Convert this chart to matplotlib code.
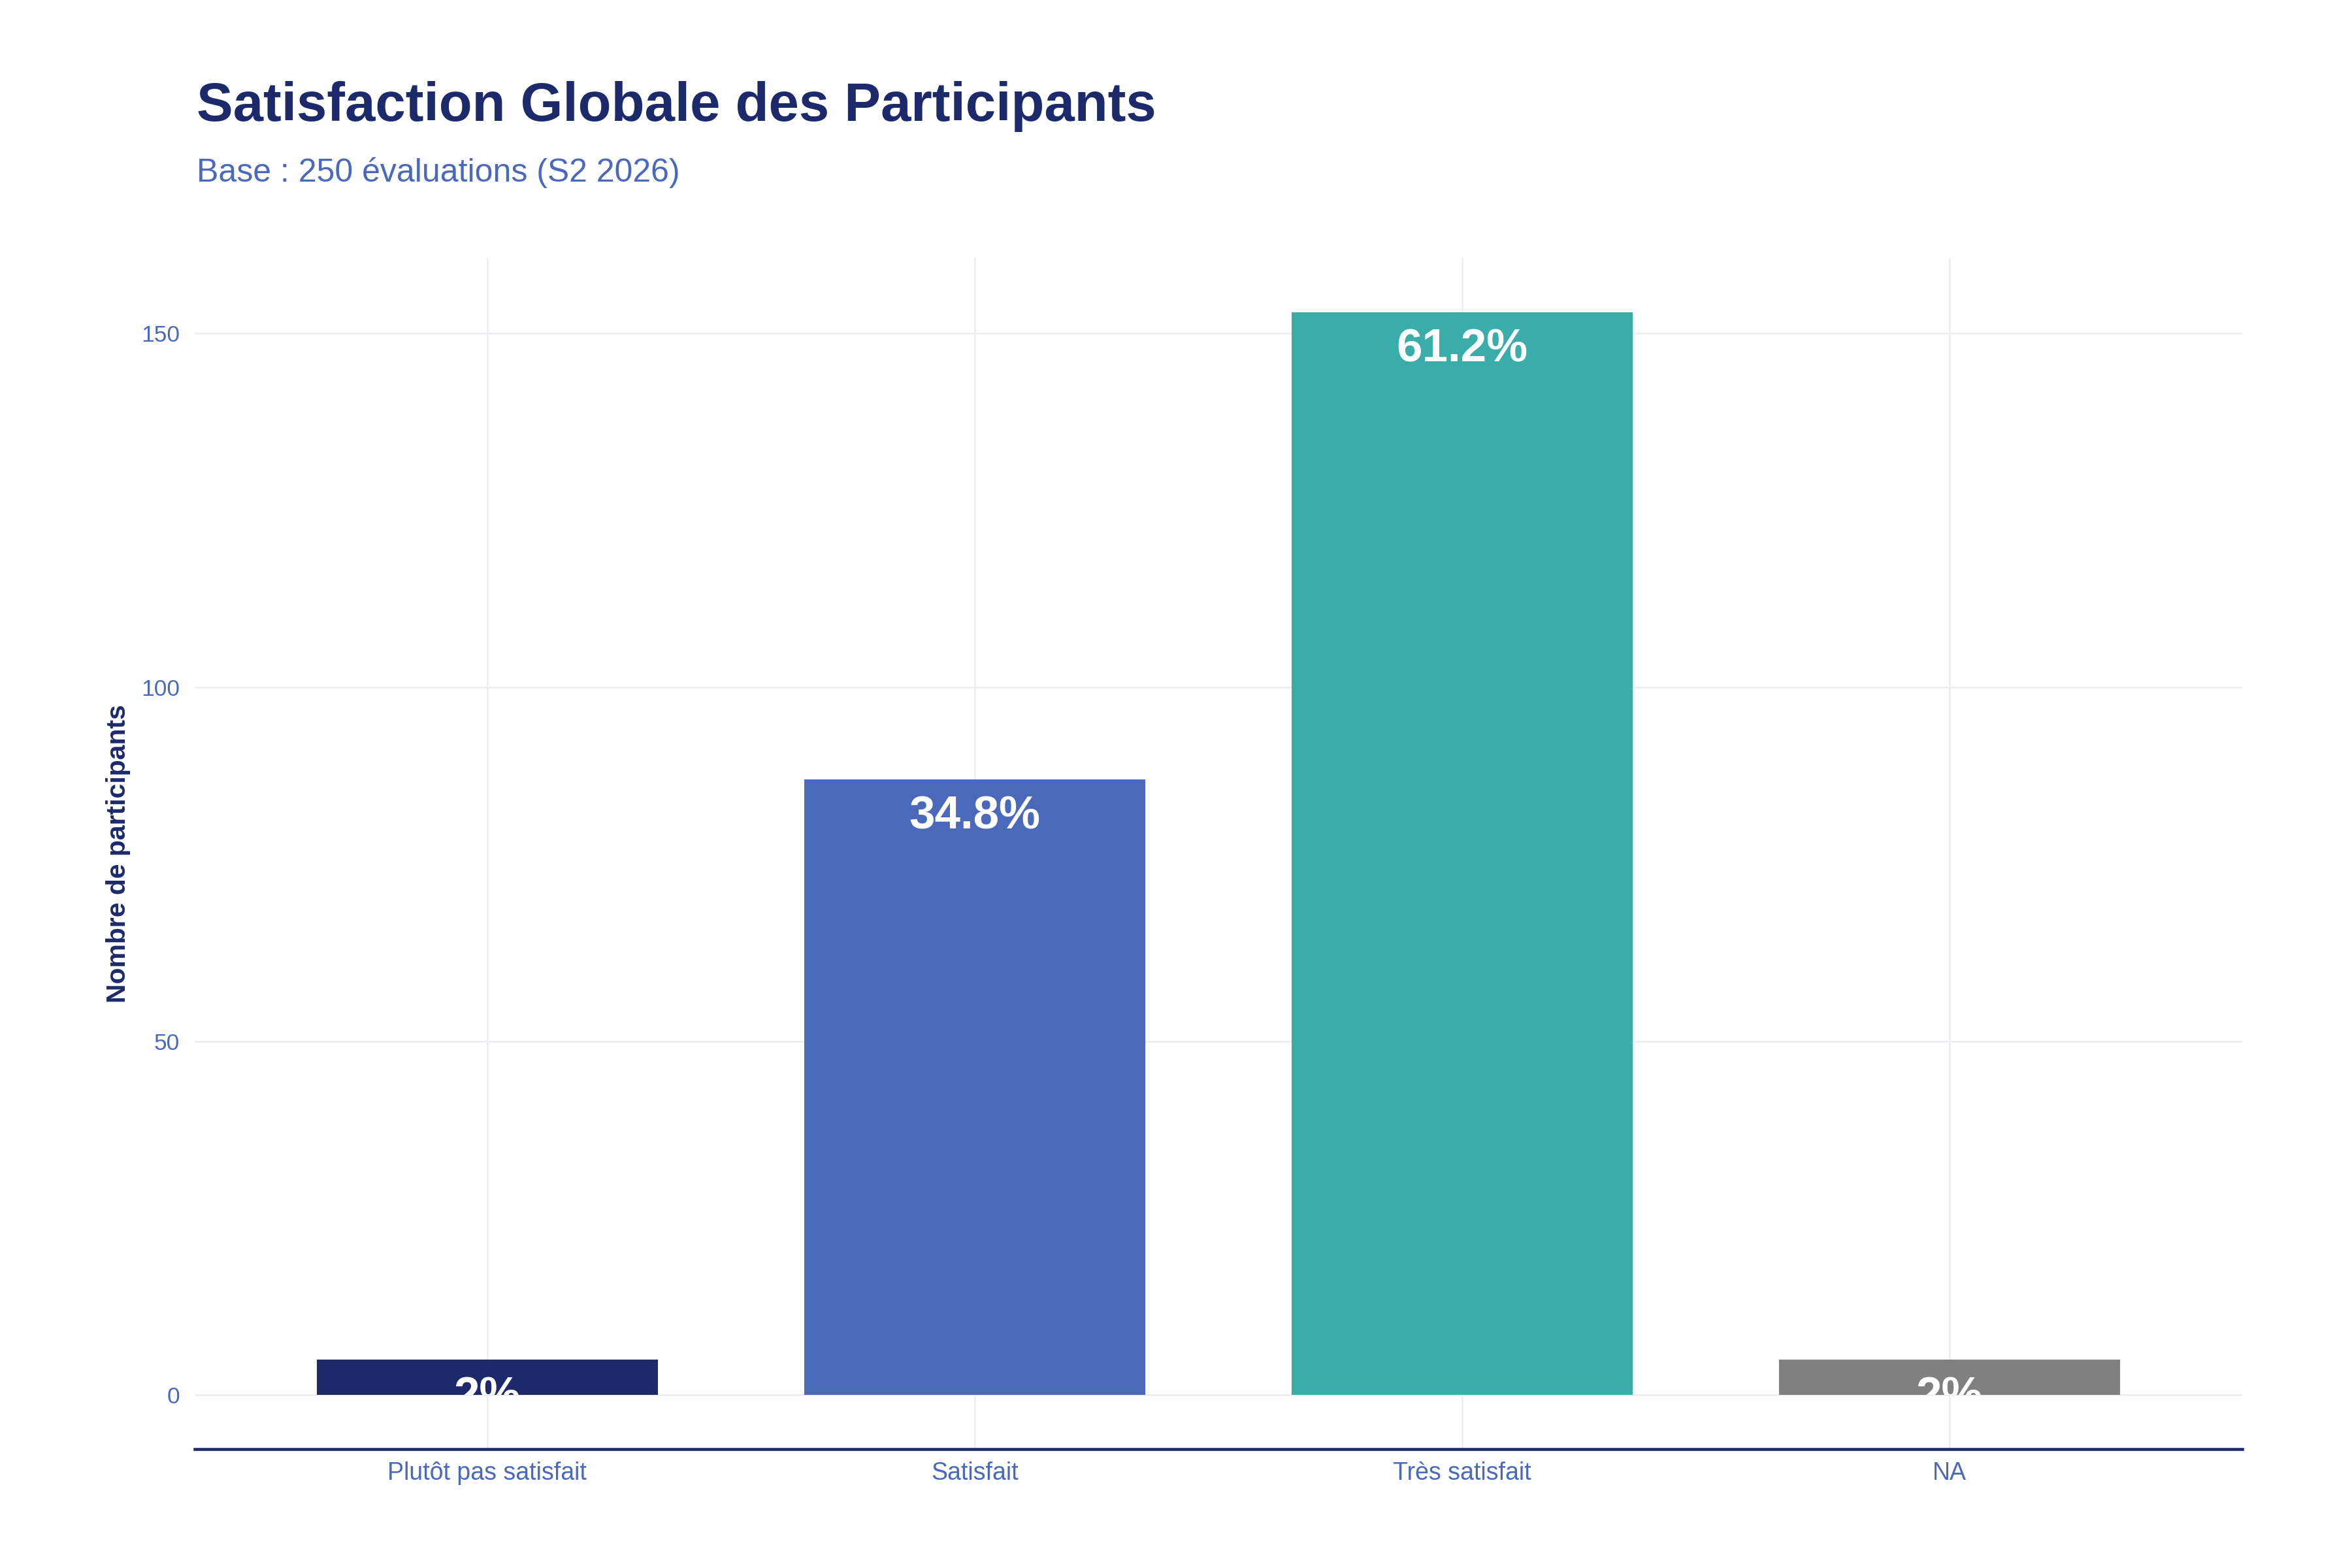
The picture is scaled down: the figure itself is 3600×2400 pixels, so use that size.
import matplotlib
matplotlib.use("Agg")
import matplotlib.pyplot as plt

categories = ["Plutôt pas satisfait", "Satisfait", "Très satisfait", "NA"]
counts = [5, 87, 153, 5]
pct_labels = ["2%", "34.8%", "61.2%", "2%"]
bar_colors = ["#1c2a6c", "#4a69bb", "#3aadaa", "#808080"]

navy = "#1c2a6c"
blue = "#4a69bd"
grid_col = "#efeff3"

plt.rcParams["font.family"] = ["Liberation Sans", "DejaVu Sans"]

fig = plt.figure(figsize=(12, 8), dpi=300)
ax = fig.add_axes([0.0828, 0.0758, 0.8705, 0.7596])

x = list(range(len(categories)))
bars = ax.bar(x, counts, width=0.7, color=bar_colors, zorder=2)

ymax = max(counts)
pad = ymax * 0.05
ax.set_ylim(-pad, ymax + pad)
ax.set_xlim(-0.6, len(categories) - 0.4)

for b, lab in zip(bars, pct_labels):
    t = ax.annotate(lab, (b.get_x() + b.get_width() / 2, b.get_height()),
                    xytext=(0, -6), textcoords="offset points",
                    ha="center", va="top", color="white",
                    fontsize=17, fontweight="bold", zorder=3)
    t.set_clip_path(b)

ax.set_yticks([0, 50, 100, 150])
ax.set_xticks(x)
ax.set_xticklabels(categories)
ax.tick_params(axis="x", length=0, pad=4.5, labelsize=9, labelcolor=blue)
ax.tick_params(axis="y", length=0, pad=5.5, labelsize=8.5, labelcolor=blue)
ax.grid(True, color=grid_col, linewidth=0.7, zorder=0)
ax.set_axisbelow(True)

for side in ["left", "right", "top"]:
    ax.spines[side].set_visible(False)
ax.spines["bottom"].set_color(navy)
ax.spines["bottom"].set_linewidth(1.1)

fig.text(0.0836, 0.923, "Satisfaction Globale des Participants",
         fontsize=20, fontweight="bold", color=navy, va="baseline")
fig.text(0.0836, 0.884, "Base : 250 évaluations (S2 2026)",
         fontsize=12, color=blue, va="baseline")
fig.text(0.0503, 0.4556, "Nombre de participants", rotation=90,
         fontsize=9.8, fontweight="bold", color=navy, ha="center", va="center")

fig.savefig("out.png", dpi=300, facecolor="white")
